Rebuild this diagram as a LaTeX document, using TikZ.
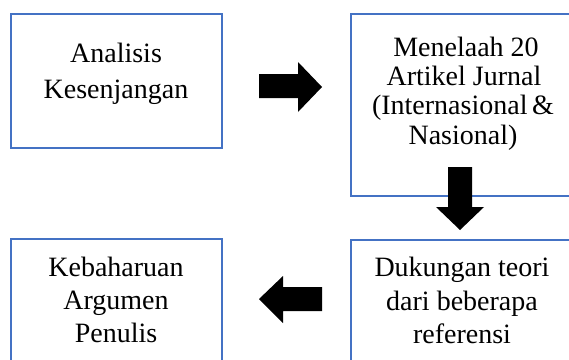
\documentclass[tikz,border=0pt]{standalone}
\usepackage{fontspec}
\setmainfont{Liberation Serif}
\begin{document}
\begin{tikzpicture}[x=1pt,y=-1pt,
  box/.style={draw=boxblue,line width=2pt},
  txt/.style={anchor=base,inner sep=0pt,font=\fontsize{28}{33}\selectfont},
  blockarrow/.style={fill=black,draw=none}]
\definecolor{boxblue}{HTML}{4472C4}
\useasboundingbox (0,0) rectangle (569,359);
\clip (0,0) rectangle (569,359);
% boxes
\draw[box] (11,14) rectangle (222,148);
\draw[box] (351,14) rectangle (575,196);
\draw[box] (351,240) rectangle (575,370);
\draw[box] (11,239) rectangle (222,370);
% texts
\node[txt] (a1) at (116,62.3) {Analisis};
\node[txt] (a2) at (116,98.3) {Kesenjangan};
\node[txt] (b1) at (466,56.7) {Menelaah 20};
\node[txt] (b2) at (464,85.5) {Artikel Jurnal};
\node[txt] (b3) at (463,114.3) {(Internasional\,\&};
\node[txt] (b4) at (463,144) {Nasional)};
\node[txt] (c1) at (462,276.7) {Dukungan teori};
\node[txt] (c2) at (462,310) {dari beberapa};
\node[txt] (c3) at (462,343) {referensi};
\node[txt] (d1) at (116,276.7) {Kebaharuan};
\node[txt] (d2) at (116,309.5) {Argumen};
\node[txt] (d3) at (116,342) {Penulis};
% block arrows
\fill[blockarrow] (259,74) -- (298,74) -- (298,62) -- (322,87) -- (298,112) -- (298,98) -- (259,98) -- cycle;
\fill[blockarrow] (448,167) -- (472,167) -- (472,207) -- (484,207) -- (460,230) -- (436,207) -- (448,207) -- cycle;
\fill[blockarrow] (322,287) -- (283,287) -- (283,276) -- (259,299) -- (283,323) -- (283,311) -- (322,311) -- cycle;
\end{tikzpicture}
\end{document}
